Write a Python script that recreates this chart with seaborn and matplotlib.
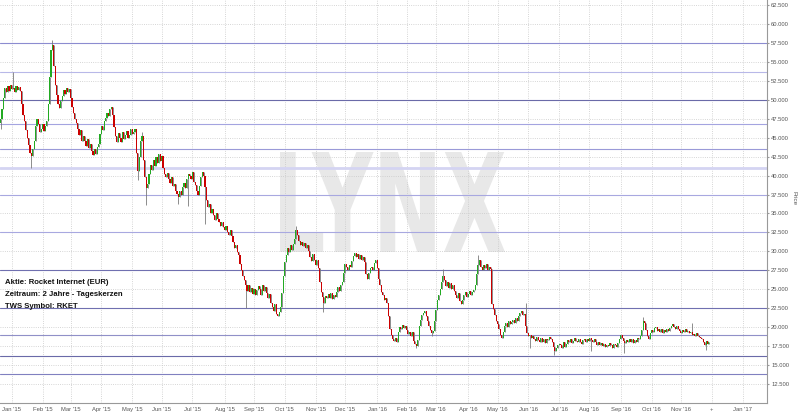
import numpy as np
import pandas as pd
import matplotlib.pyplot as plt
import seaborn as sns
from matplotlib.textpath import TextPath
from matplotlib.patches import PathPatch
from matplotlib.font_manager import FontProperties
from matplotlib.transforms import Affine2D

# daily closes, one row per trading week, starting Mon 2014-12-22
start_date = '2014-12-22'
closes = [
    47.5, 48.8, 50.2, 51.5, 51.0,
    51.8, 51.2, 52.0, 51.4, 51.6,
    51.0, 51.8, 51.3, 51.7, 51.2,
    49.5, 48.0, 47.2, 46.0, 45.0,
    44.0, 43.0, 42.6, 43.5, 44.5,
    46.5, 47.5, 46.8, 45.8, 46.2,
    46.8, 45.9, 46.5, 47.2, 49.5,
    53.0, 56.5, 57.2, 54.5, 52.0,
    50.6, 49.5, 48.9, 49.8, 50.5,
    51.3, 50.8, 51.6, 51.0, 51.4,
    50.2, 49.0, 48.2, 47.5, 47.0,
    46.2, 45.4, 46.0, 44.6, 45.2,
    44.5, 43.9, 44.8, 43.6, 44.2,
    43.2, 42.7, 43.5, 42.9, 43.8,
    44.2, 45.5, 46.6, 46.0, 47.2,
    47.6, 48.3, 47.9, 48.8, 49.0,
    48.0, 46.4, 45.2, 44.4, 45.6,
    45.0, 44.4, 45.7, 44.8, 45.4,
    45.9, 44.9, 45.3, 46.2, 45.5,
    45.8, 46.2, 43.0, 40.6, 42.4,
    44.6, 45.2, 42.0, 39.8, 38.4,
    38.9, 40.2, 41.4, 40.8, 42.0,
    41.2, 42.4, 41.6, 42.8, 41.9,
    42.6, 41.0, 40.2, 39.8, 40.4,
    39.6, 39.0, 39.8, 38.6, 38.9,
    38.0, 37.6, 37.2, 38.0, 37.5,
    38.5, 39.0, 38.4, 39.6, 40.2,
    40.0, 39.6, 40.5, 39.2, 38.8,
    38.0, 37.5, 38.6, 39.8, 40.5,
    40.0, 38.5, 36.8, 35.8, 36.3,
    35.0, 35.6, 34.8, 34.2, 35.0,
    34.3, 33.9, 33.3, 33.9, 33.2,
    32.8, 33.4, 32.5, 32.1, 32.8,
    32.0, 31.2, 30.5, 30.9, 29.9,
    29.5, 28.4, 27.6, 26.8, 26.2,
    25.5, 24.8, 25.6, 24.6, 25.2,
    24.4, 25.1, 24.2, 24.9, 25.4,
    25.0, 24.3, 25.6, 24.8, 25.3,
    24.5, 23.8, 24.4, 23.2, 22.6,
    22.2, 23.0, 21.8, 21.5, 22.0,
    22.6, 24.5, 26.8, 28.6, 29.5,
    30.4, 29.9, 30.8, 30.2, 31.0,
    31.6, 32.8, 32.1, 31.4, 30.8,
    31.3, 30.7, 31.1, 30.4, 30.9,
    30.0, 29.2, 28.7, 29.6, 28.8,
    28.2, 28.9, 27.8, 26.0, 24.6,
    24.0, 23.2, 24.1, 23.8, 24.4,
    23.9, 24.5, 23.7, 24.2, 24.0,
    24.6, 25.3, 24.8, 25.6, 26.0,
    27.2, 28.4, 28.0, 27.6, 28.2,
    28.0, 28.7, 29.4, 29.8, 29.2,
    29.6, 29.0, 29.5, 28.9, 29.3,
    28.6, 27.0, 26.4, 27.2, 27.8,
    28.0, 27.6, 28.5, 28.9, 27.8,
    26.4, 25.5, 24.6, 24.2, 23.6,
    23.8, 23.2, 21.5, 19.8, 19.0,
    18.4, 18.2, 18.6, 18.0, 19.4,
    20.0, 19.7, 20.3, 19.9, 20.2,
    19.6, 19.1, 19.4, 18.8, 19.3,
    18.2, 17.8, 17.5, 18.3, 20.2,
    21.0, 21.6, 21.9, 22.1, 21.5,
    20.8, 20.2, 19.6, 19.2, 19.5,
    20.8, 22.3, 23.6, 24.2, 25.0,
    26.0, 26.8, 26.2, 25.4, 25.9,
    25.2, 25.8, 25.0, 25.5, 24.8,
    24.3, 23.8, 24.5, 23.4, 23.0,
    23.6, 24.2, 24.6, 24.0, 24.4,
    24.8, 24.2, 24.6, 24.9, 25.6,
    27.0, 28.2, 28.8, 28.0, 27.6,
    28.2, 27.8, 28.4, 27.5, 28.0,
    27.7, 23.0, 22.4, 21.6, 20.8,
    20.4, 19.8, 19.0, 18.6, 19.4,
    20.2, 20.6, 20.0, 20.8, 20.4,
    20.7, 21.0, 20.5, 21.2, 20.8,
    21.5, 21.9, 22.1, 21.6, 21.8,
    20.2, 19.2, 18.8, 19.0, 18.6,
    18.9, 18.4, 18.2, 18.7, 18.3,
    18.0, 18.6, 18.1, 18.4, 17.9,
    18.5, 18.3, 18.7, 18.4, 18.0,
    17.4, 16.9, 17.2, 17.6, 17.8,
    17.6, 17.2, 18.0, 17.4, 17.8,
    18.3, 18.1, 18.5, 17.9, 18.2,
    18.6, 18.2, 18.0, 18.4, 18.1,
    17.8, 18.3, 18.5, 18.0, 18.4,
    18.2, 18.6, 18.3, 18.0, 18.4,
    18.1, 17.7, 18.0, 17.6, 17.9,
    17.5, 17.8, 17.4, 17.7, 17.5,
    17.9, 17.6, 17.3, 17.8, 17.6,
    17.4, 17.9, 18.4, 19.0, 18.6,
    18.2, 17.9, 18.3, 18.0, 18.4,
    18.1, 18.5, 17.9, 18.3, 18.0,
    18.6, 18.4, 18.9, 19.6, 20.8,
    20.6, 19.6, 18.8, 18.4, 19.2,
    19.6, 19.3, 19.9, 20.0, 19.5,
    19.8, 19.4, 19.7, 19.2, 19.6,
    19.3, 19.8, 19.5, 19.9, 20.1,
    20.4, 20.0, 19.8, 20.2, 19.7,
    19.5, 19.2, 19.6, 19.4, 19.7,
    19.3, 19.5, 19.2, 19.4, 19.0,
    19.1, 18.8, 19.2, 18.9, 18.7,
    18.6, 18.4, 18.0, 17.6, 18.2,
    17.8, 18.0,
]
first_open = 47.0

# wicks that stick out beyond the candle bodies (day index -> price)
wick_high = {9: 53.6, 37: 57.9, 101: 45.8, 211: 33.4, 316: 27.7, 341: 29.5,
             375: 23.2, 459: 21.3, 494: 20.5}
wick_low = {0: 46.2, 22: 41.0, 98: 39.4, 104: 36.1, 127: 36.2, 134: 36.0,
            146: 33.6, 175: 22.5, 230: 22.0, 297: 17.2, 308: 18.8, 378: 17.2,
            395: 16.3, 422: 16.9, 445: 16.6, 504: 17.0}

# horizontal support / resistance lines
levels = [57.5, 53.6, 50.0, 46.8, 43.5, 41.0, 37.5, 32.5, 27.5, 22.5, 19.0, 16.2, 13.8]
level_colors = ['#8c8cd0', '#b8b8e8', '#6a6aa8', '#a4a4e0', '#9a9ad8', '#d4d4f2', '#a8a8e0',
                '#a8a8e0', '#7070b0', '#7070b0', '#9090c8', '#6a6aa8', '#8080c0']
level_widths = [0.8, 0.8, 0.8, 0.8, 0.8, 2.0, 0.8, 0.8, 0.8, 0.8, 0.8, 0.8, 0.8]

info_lines = ['Aktie: Rocket Internet (EUR)', 'Zeitraum: 2 Jahre - Tageskerzen', 'TWS Symbol: RKET']

sns.set_style('white')
plt.rcParams['font.family'] = ['Liberation Sans', 'DejaVu Sans']

closes = np.array(closes)
opens = np.concatenate([[first_open], closes[:-1]])
highs = np.maximum(opens, closes)
lows = np.minimum(opens, closes)
for i, v in wick_high.items():
    highs[i] = max(highs[i], v)
for i, v in wick_low.items():
    lows[i] = min(lows[i], v)
df = pd.DataFrame({'open': opens, 'high': highs, 'low': lows, 'close': closes})
df['x'] = np.arange(len(df))

# month ticks on a trading-day axis
all_days = pd.bdate_range(start_date, '2017-01-31')
month_pos, month_lab = [], []
for per in pd.period_range('2015-01', '2017-01', freq='M'):
    idx = np.where(all_days >= per.start_time)[0][0]
    month_pos.append(idx)
    month_lab.append('+' if per == pd.Period('2016-12', 'M') else per.start_time.strftime("%b '%y"))

fig = plt.figure(figsize=(8, 4.15), dpi=100)
ax = fig.add_axes([0, 12 / 415, 767 / 800, 403 / 415])
ax.set_xlim(-0.4, 547.5)
ax.set_ylim(10.0, 63.16)

# LYNX watermark
tp = TextPath((0, 0), 'LYNX', size=1, prop=FontProperties(family='DejaVu Sans', weight='bold'))
bb = tp.get_extents()
tr = (Affine2D().translate(-bb.x0, -bb.y0)
      .scale((225 / 800) / bb.width, (100 / 415) / bb.height)
      .translate(280 / 800, (415 - 252) / 415) + fig.transFigure)
ax.add_patch(PathPatch(tp, transform=tr, facecolor='#e8e8e8', edgecolor='none', zorder=0.5))

ax.grid(True, linestyle=':', color='#c8c8c8', linewidth=0.6)
for lv, col, lw in zip(levels, level_colors, level_widths):
    ax.axhline(lv, color=col, linewidth=lw, zorder=2)

up = df[df['close'] >= df['open']]
down = df[df['close'] < df['open']]
ax.vlines(df['x'], df['low'], df['high'], color='#7a7a7a', linewidth=0.6, zorder=3)
ax.bar(up['x'], up['close'] - up['open'], bottom=up['open'], width=0.8,
       color='#22aa22', linewidth=0, zorder=4)
ax.bar(down['x'], down['open'] - down['close'], bottom=down['close'], width=0.8,
       color='#cc0000', linewidth=0, zorder=4)

ax.yaxis.tick_right()
yt = np.arange(12.5, 62.51, 2.5)
ax.set_yticks(yt)
ax.set_yticklabels([f'{v:.3f}' for v in yt])
ax.set_xticks(month_pos)
ax.set_xticklabels(month_lab)
ax.tick_params(axis='both', labelsize=4.2, labelcolor='#555555', color='#999999', length=1.5, pad=1.5)
for s in ['top', 'left']:
    ax.spines[s].set_visible(False)
for s in ['right', 'bottom']:
    ax.spines[s].set_color('#999999')
    ax.spines[s].set_linewidth(0.8)

fig.text(794 / 800, 1 - 198 / 415, 'Price', rotation=270, fontsize=4.5, color='#555555',
         ha='center', va='center')
for k, line in enumerate(info_lines):
    fig.text(5 / 800, 1 - (282 + 12 * k) / 415, line, fontsize=5.6, fontweight='bold',
             color='#111111', ha='left', va='center')

fig.savefig('out.png', dpi=100)
